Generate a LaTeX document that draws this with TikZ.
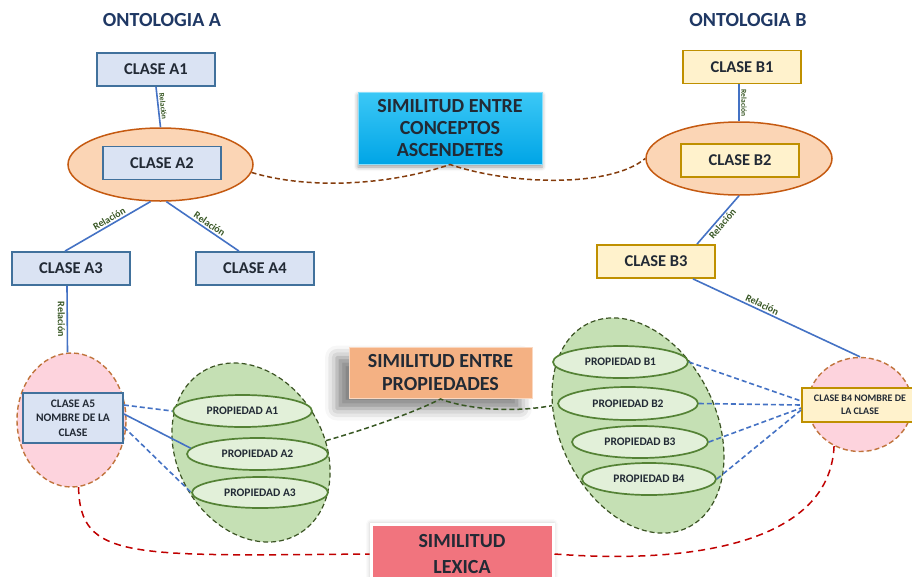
\documentclass[tikz,border=0pt]{standalone}
\usepackage{fontspec}
\setmainfont{Carlito}
\usetikzlibrary{shapes.geometric,shadows.blur}

\definecolor{titleblue}{HTML}{1F3864}
\definecolor{txt}{HTML}{222A35}
\definecolor{boxAfill}{HTML}{DAE3F3}
\definecolor{boxAline}{HTML}{41719C}
\definecolor{boxBfill}{HTML}{FFF2CC}
\definecolor{boxBline}{HTML}{BF9000}
\definecolor{ovalfill}{HTML}{FBD5B5}
\definecolor{ovalline}{HTML}{C55A11}
\definecolor{pinkfill}{HTML}{FDD3DD}
\definecolor{pinkline}{HTML}{C0743C}
\definecolor{grpfill}{HTML}{C5E0B4}
\definecolor{grpline}{HTML}{3B5323}
\definecolor{propfill}{HTML}{E2F0D9}
\definecolor{propline}{HTML}{548235}
\definecolor{relblue}{HTML}{4472C4}
\definecolor{relgreen}{HTML}{375623}
\definecolor{brownlink}{HTML}{843C0C}
\definecolor{greenlink}{HTML}{385723}
\definecolor{redlink}{HTML}{C00000}
\definecolor{cyantop}{HTML}{3CC8F6}
\definecolor{cyanbot}{HTML}{00A5E6}
\definecolor{peach}{HTML}{F4B183}
\definecolor{rose}{HTML}{F1747E}

\begin{document}
\begin{tikzpicture}[x=1pt,y=-1pt,
  every node/.style={font=\bfseries, text=txt},
  title/.style={text=titleblue, font=\bfseries\fontsize{20}{22}\selectfont},
  clsA/.style={draw=boxAline, fill=boxAfill, line width=1.8pt, minimum width=118pt,
    minimum height=33pt, inner sep=0pt, font=\bfseries\fontsize{16.5}{18}\selectfont},
  clsB/.style={clsA, draw=boxBline, fill=boxBfill},
  oval/.style={ellipse, draw=ovalline, fill=ovalfill, line width=1.5pt, inner sep=0pt},
  pinkoval/.style={ellipse, draw=pinkline, fill=pinkfill, line width=1.4pt,
    dash pattern=on 5pt off 3pt, inner sep=0pt},
  group/.style={ellipse, draw=grpline, fill=grpfill, line width=1.2pt,
    dash pattern=on 5pt off 3pt, inner sep=0pt},
  prop/.style={ellipse, draw=propline, fill=propfill, line width=1.7pt, inner sep=0pt,
    font=\bfseries\fontsize{11.5}{13}\selectfont},
  rel/.style={draw=relblue, line width=1.6pt},
  reldash/.style={rel, dash pattern=on 5pt off 3pt},
  lbl/.style={font=\bfseries\fontsize{10}{11}\selectfont, text=relgreen, sloped, inner sep=1.5pt},
  smalllbl/.style={lbl, font=\bfseries\fontsize{7.5}{8}\selectfont},
  simbox/.style={inner sep=0pt, align=center},
  brownd/.style={draw=brownlink, line width=1.5pt, dash pattern=on 5pt off 3pt},
  greend/.style={draw=greenlink, line width=1.5pt, dash pattern=on 5pt off 3pt},
  redd/.style={draw=redlink, line width=1.5pt, dash pattern=on 7pt off 5pt},
]
\useasboundingbox (0,0) rectangle (912,576);
\clip (0,0) rectangle (912,576);

% headings
\node[title] (tA) at (162,20) {ONTOLOGIA A};
\node[title] (tB) at (748,20) {ONTOLOGIA B};

% ---------------- ontology A ----------------
\node[clsA] (a1) at (156,69.5) {CLASE A1};
\node[oval, minimum width=185pt, minimum height=73pt] (a2e) at (160.5,164.5) {};
\node[clsA] (a2) at (162,163) {CLASE A2};
\node[clsA] (a3) at (71,268.5) {CLASE A3};
\node[clsA] (a4) at (255,268.5) {CLASE A4};
\node[pinkoval, minimum width=109pt, minimum height=134pt] (a5e) at (71.5,420) {};
\node[clsA, minimum width=100pt, minimum height=50pt, align=center,
  font=\bfseries\fontsize{11.5}{14.5}\selectfont] (a5) at (73,418) {CLASE A5\\NOMBRE DE LA\\CLASE};

\draw[rel] (a1.south) -- node[smalllbl, above] {Relación} (a2e.north);
\draw[rel] (a2e.255) -- node[lbl, above, pos=0.45] {Relación} ([xshift=-6pt]a3.north);
\draw[rel] (a2e.279) -- node[lbl, above, pos=0.55] {Relación} ([xshift=-16pt]a4.north);
\draw[rel] ([xshift=-4pt]a3.south) -- node[lbl, below] {Relación} ([xshift=-4pt]a5e.north);

% properties of class A5
\node[group, minimum width=146.6pt, minimum height=188.6pt, rotate=30] (ga) at (251,452.5) {};
\node[prop, minimum width=139pt, minimum height=32pt] (pa1) at (242.5,411) {PROPIEDAD A1};
\node[prop, minimum width=141pt, minimum height=32pt] (pa2) at (257.5,454) {PROPIEDAD A2};
\node[prop, minimum width=136pt, minimum height=31pt] (pa3) at (260,492.5) {PROPIEDAD A3};
\draw[reldash] ([yshift=13pt]a5.east) -- (pa1.west);
\draw[rel] ([yshift=4pt]a5.east) -- (pa2.175);
\draw[reldash] ([yshift=-9pt]a5.east) -- (pa3.west);

% ---------------- ontology B ----------------
\node[clsB] (b1) at (742,67) {CLASE B1};
\node[oval, minimum width=186pt, minimum height=73pt] (b2e) at (739,158.5) {};
\node[clsB] (b2) at (740,160.5) {CLASE B2};
\node[clsB] (b3) at (656,261.5) {CLASE B3};
\node[pinkoval, minimum width=104pt, minimum height=94pt] (b4e) at (860,404.5) {};
\node[clsB, minimum width=116pt, minimum height=34pt, align=center,
  font=\bfseries\fontsize{10}{13}\selectfont] (b4) at (860,405) {CLASE B4 NOMBRE DE\\LA CLASE};

\draw[rel] ([xshift=-3pt]b1.south) -- node[smalllbl, above] {Relación} (b2e.north);
\draw[rel] (b2e.south) -- node[lbl, below] {Relación} ([xshift=41pt]b3.north);
\draw[rel] ([xshift=37pt]b3.south) -- node[lbl, above, pos=0.4] {Relación} (b4e.north);

% properties of class B4
\node[group, minimum width=156pt, minimum height=227pt, rotate=26] (gb) at (638,425.5) {};
\node[prop, minimum width=135pt, minimum height=32pt] (pb1) at (620.5,362) {PROPIEDAD B1};
\node[prop, minimum width=140pt, minimum height=33pt] (pb2) at (628,403.5) {PROPIEDAD B2};
\node[prop, minimum width=136pt, minimum height=32pt] (pb3) at (640,442) {PROPIEDAD B3};
\node[prop, minimum width=134pt, minimum height=32pt] (pb4) at (649,479) {PROPIEDAD B4};
\draw[reldash] (pb1.east) -- ([yshift=4pt]b4.west);
\draw[reldash] (pb2.east) -- (b4.west);
\draw[reldash] (pb3.east) -- ([yshift=-3pt]b4.west);
\draw[reldash] (pb4.east) -- ([yshift=-5pt]b4.west);

% ---------------- similarity boxes ----------------
\node[simbox, minimum width=184pt, minimum height=72pt, top color=cyantop, bottom color=cyanbot,
  draw=cyantop!60!white, line width=1pt, font=\bfseries\fontsize{20}{22}\selectfont,
  blur shadow={shadow xshift=0pt, shadow yshift=-3pt, shadow blur radius=4pt}]
  (cy) at (450,128) {SIMILITUD ENTRE\\CONCEPTOS\\ASCENDETES};
\node[simbox, minimum width=183pt, minimum height=51pt, fill=peach, draw=peach!50!white, line width=1pt,
  font=\bfseries\fontsize{20}{23}\selectfont,
  blur shadow={shadow xshift=-12pt, shadow yshift=-10pt, shadow blur radius=12pt, shadow opacity=50}]
  (ob) at (440.5,373) {SIMILITUD ENTRE\\PROPIEDADES};
\node[simbox, minimum width=182pt, minimum height=60pt, fill=rose, draw=white, line width=3pt,
  font=\bfseries\fontsize{20}{25}\selectfont,
  blur shadow={shadow xshift=0pt, shadow yshift=0pt, shadow blur radius=5pt, shadow opacity=30}]
  (lex) at (462,554) {SIMILITUD\\LEXICA};

% ---------------- similarity links ----------------
\draw[brownd] (a2e.-5) .. controls (310,190) and (390,185) .. (cy.south)
  .. controls (510,185) and (610,188) .. (b2e.west);
\draw[greend] (ga.-21) .. controls (370,428) and (415,412) .. (ob.south)
  .. controls (455,405) and (500,415) .. (gb.141);
\draw[redd] (a5e.-84) .. controls (80,560) and (130,556) .. (lex.west);
\draw[redd] (lex.east) .. controls (700,565) and (830,540) .. (b4e.238);
\end{tikzpicture}
\end{document}
